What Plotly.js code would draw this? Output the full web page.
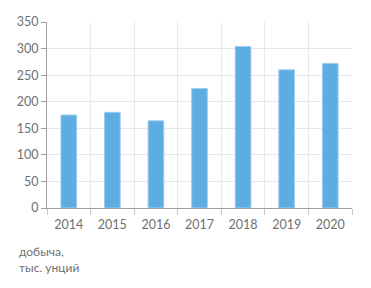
<!DOCTYPE html>
<html>
<head>
<meta charset="utf-8">
<script src="https://cdn.plot.ly/plotly-3.0.1.min.js"></script>
<style>html,body{margin:0;padding:0;background:#fff;}#chart{width:371px;height:288px;}</style>
</head>
<body>
<div id="chart"></div>
<script>
var years = ["2014", "2015", "2016", "2017", "2018", "2019", "2020"];
var production = [175, 180, 164, 225, 304, 260, 272];
var yTicks = [0, 50, 100, 150, 200, 250, 300, 350];
var unitLabel = "добыча,<br>тыс. унций";

var trace = {
  type: "bar",
  x: years,
  y: production,
  width: 0.36,
  marker: { color: "#5dade2", line: { color: "#9fcdef", width: 1 } },
  hoverinfo: "none"
};

var layout = {
  width: 371,
  height: 288,
  margin: { l: 47, r: 19, t: 22, b: 80 },
  paper_bgcolor: "#fff",
  plot_bgcolor: "#fff",
  showlegend: false,
  font: { family: "Lato, 'Open Sans', sans-serif", size: 12, color: "#707070" },
  xaxis: {
    type: "category",
    range: [-0.5, 6.5],
    tickson: "boundaries",
    ticks: "outside",
    ticklen: 6,
    tickcolor: "#c8c8c8",
    ticklabelstandoff: 5,
    showgrid: true,
    gridcolor: "#e8e8e8",
    gridwidth: 1,
    showline: true,
    linecolor: "#a0a0a0",
    linewidth: 1,
    tickfont: { size: 12.5, color: "#707070" },
    fixedrange: true
  },
  yaxis: {
    range: [0, 350],
    tickmode: "array",
    tickvals: yTicks,
    ticktext: yTicks.map(String),
    ticks: "outside",
    ticklen: 5,
    tickcolor: "#a0a0a0",
    showgrid: true,
    gridcolor: "#e8e8e8",
    gridwidth: 1,
    zeroline: false,
    showline: true,
    linecolor: "#a0a0a0",
    linewidth: 1,
    tickfont: { size: 12.5, color: "#707070" },
    fixedrange: true
  },
  annotations: [{
    text: unitLabel,
    xref: "paper", yref: "paper",
    x: -0.1, y: -0.185,
    xanchor: "left", yanchor: "top",
    align: "left",
    showarrow: false,
    font: { size: 12, color: "#707070" }
  }]
};

Plotly.newPlot("chart", [trace], layout, { staticPlot: true, displayModeBar: false });
</script>
</body>
</html>
